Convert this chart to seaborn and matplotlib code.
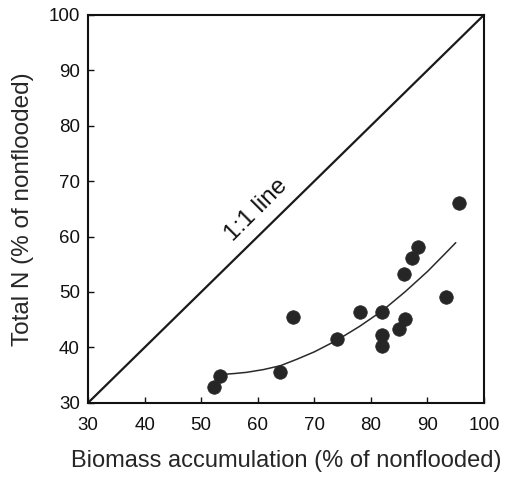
import matplotlib
matplotlib.use("Agg")
import matplotlib.pyplot as plt
import seaborn as sns
import pandas as pd

# Data
biomass = [52.2, 53.4, 64.0, 66.3, 74.0, 78.0, 82.0, 82.0, 82.0, 85.0, 86.1, 85.8, 87.2, 88.3, 93.3, 95.6]
total_n = [32.8, 34.8, 35.6, 45.5, 41.5, 46.4, 46.3, 42.3, 40.3, 43.3, 45.2, 53.2, 56.2, 58.2, 49.1, 66.1]

curve_x = [53.5, 56, 58, 61, 64, 67, 70, 74, 78, 82, 86, 90, 93, 95]
curve_y = [35.1, 35.3, 35.5, 36.0, 36.7, 37.9, 39.2, 41.3, 43.8, 46.6, 50.0, 53.7, 56.8, 58.9]

oneone_x = [30, 100]
oneone_y = [30, 100]

x_ticks = [30, 40, 50, 60, 70, 80, 90, 100]
y_ticks = [30, 40, 50, 60, 70, 80, 90, 100]

sns.set_style("ticks")
plt.rcParams['font.family'] = ['Liberation Sans', 'DejaVu Sans']

fig = plt.figure(figsize=(5.09, 4.79), dpi=100)
ax = fig.add_axes([0.173, 0.159, 0.778, 0.810])

sns.lineplot(x=oneone_x, y=oneone_y, ax=ax, color="#1a1a1a", linewidth=1.6)
sns.lineplot(x=curve_x, y=curve_y, ax=ax, color="#2a2a2a", linewidth=1.1, sort=True)
sns.scatterplot(x=biomass, y=total_n, ax=ax, color="#262626", s=95,
                edgecolor="#262626", linewidth=0.5, zorder=5)

ax.set_xlim(30, 100)
ax.set_ylim(30, 100)
ax.set_xticks(x_ticks)
ax.set_yticks(y_ticks)
ax.tick_params(direction="in", length=4, width=1, labelsize=13.5, colors="#111111")
ax.tick_params(axis="x", pad=10)
ax.tick_params(axis="y", pad=6)
for s in ax.spines.values():
    s.set_visible(True)
    s.set_linewidth(1.5)
    s.set_color("#111111")

ax.set_xlabel("Biomass accumulation (% of nonflooded)", fontsize=17, labelpad=12)
ax.set_ylabel("Total N (% of nonflooded)", fontsize=17.5, labelpad=10)

ax.text(59.8, 64.8, "1:1 line", rotation=45, fontsize=17.5, ha="center", va="center",
        rotation_mode="anchor", color="#111111")

fig.savefig("out.png", dpi=100)
